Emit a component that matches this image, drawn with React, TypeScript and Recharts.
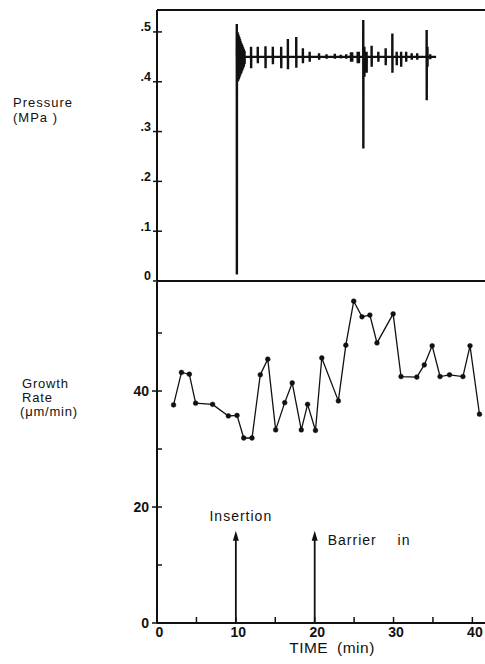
import { LineChart, Line, XAxis, YAxis, ReferenceLine } from "recharts";

// time axis
const timeTicks = [0, 5, 10, 15, 20, 25, 30, 35, 40];
const pressureTicks = [0, 0.1, 0.2, 0.3, 0.4, 0.5];
const rateTicks = [0, 10, 20, 30, 40, 50];

// pressure trace: steady level with spikes (time in min, MPa)
const baseline = 0.45;
const traceStart = 10.1;
const traceEnd = 35.4;
const spikeTime = [
  10.12, 10.2, 10.28, 10.36, 10.44, 10.52, 10.6, 10.7, 10.8, 10.9, 11.0, 11.1,
  11.93, 12.78, 13.76, 14.69, 15.75, 16.6, 17.66, 18.5, 19.36, 20.55, 21.5, 22.55,
  23.3, 24.0, 24.6, 24.75, 25.45, 25.6, 26.16, 26.3, 26.58, 27.22, 28.07, 29.0,
  29.85, 30.4, 30.96, 31.6, 32.3, 33.0, 34.2, 34.3, 34.65,
];
const spikeHigh = [
  0.516, 0.5, 0.497, 0.493, 0.49, 0.486, 0.482, 0.478, 0.474, 0.47, 0.466, 0.462,
  0.47, 0.47, 0.471, 0.47, 0.47, 0.486, 0.49, 0.467, 0.46, 0.457, 0.455, 0.456,
  0.454, 0.455, 0.459, 0.459, 0.46, 0.46, 0.524, 0.47, 0.46, 0.472, 0.46, 0.467,
  0.497, 0.46, 0.46, 0.46, 0.457, 0.457, 0.504, 0.47, 0.455,
];
const spikeLow = [
  0.013, 0.4, 0.402, 0.405, 0.408, 0.412, 0.415, 0.418, 0.422, 0.426, 0.43, 0.435,
  0.427, 0.437, 0.427, 0.435, 0.427, 0.425, 0.428, 0.437, 0.44, 0.444, 0.446, 0.446,
  0.447, 0.446, 0.44, 0.44, 0.437, 0.437, 0.266, 0.41, 0.418, 0.43, 0.44, 0.433,
  0.418, 0.433, 0.43, 0.44, 0.444, 0.444, 0.363, 0.43, 0.445,
];

// growth rate (um/min)
const growthTime = [
  2.1, 3.1, 4.1, 4.9, 7.05, 9.05, 10.15, 11.0, 12.05, 13.1, 14.05, 15.05, 16.2, 17.15,
  18.3, 19.1, 20.1, 20.9, 23.0, 23.95, 24.95, 26.0, 27.0, 27.9, 29.95, 30.95, 32.95,
  33.9, 34.9, 35.9, 37.1, 38.8, 39.7, 40.9,
];
const growthRate = [
  37.6, 43.2, 42.9, 37.9, 37.7, 35.7, 35.8, 31.9, 31.9, 42.8, 45.5, 33.3, 38.0, 41.4,
  33.3, 37.7, 33.2, 45.7, 38.3, 47.9, 55.5, 52.8, 53.1, 48.3, 53.3, 42.5, 42.4, 44.5,
  47.8, 42.5, 42.8, 42.5, 47.8, 36.0,
];

// events marked with arrows
const eventTime = [10, 20];
const eventLabel = ["Insertion", "Barrier in"];
const eventReach = 15.9;

const pressureData: { t: number; p: number }[] = [{ t: traceStart, p: baseline }];
spikeTime.forEach((t, i) => {
  pressureData.push(
    { t: t - 0.01, p: baseline },
    { t, p: spikeHigh[i] },
    { t: t + 0.01, p: spikeLow[i] },
    { t: t + 0.02, p: baseline }
  );
});
pressureData.push({ t: traceEnd, p: baseline });

const growthData = growthTime.map((t, i) => ({ t, r: growthRate[i] }));

const FONT = "'Liberation Sans', Arial, Helvetica, sans-serif";
const INK = "#111";
const X_DOMAIN: [number, number] = [0, 41.6];

const PressureTick = (props: any) => {
  const { x, y, payload } = props;
  const ax = x + 5;
  const v = payload.value;
  const label = v === 0 ? "0" : v.toFixed(1).replace(/^0/, "");
  return (
    <g>
      <line x1={ax - 4} x2={ax + 5} y1={y} y2={y} stroke={INK} strokeWidth={1.5} />
      <text x={x - 1} y={y - 5} dy="0.35em" textAnchor="end" fontSize={12.5} fontWeight="bold" fill={INK} fontFamily={FONT}>
        {label}
      </text>
    </g>
  );
};

const RateTick = (props: any) => {
  const { x, y, payload } = props;
  const ax = x + 8;
  const labelled = payload.value % 20 === 0;
  return (
    <g>
      <line x1={labelled ? ax - 5 : ax} x2={ax + 5} y1={y} y2={y} stroke={INK} strokeWidth={1.5} />
      {labelled && (
        <text x={x} y={y} dy="0.35em" textAnchor="end" fontSize={14} fontWeight="bold" fill={INK} fontFamily={FONT}>
          {payload.value}
        </text>
      )}
    </g>
  );
};

const TimeTick = (props: any) => {
  const { x, y, payload } = props;
  const ay = y - 4;
  const labelled = payload.value % 10 === 0;
  return (
    <g>
      <line x1={x} x2={x} y1={ay} y2={ay - 6} stroke={INK} strokeWidth={1.5} />
      {labelled && (
        <text x={x + 2.5} y={ay + 14} textAnchor="middle" fontSize={14} fontWeight="bold" fill={INK} fontFamily={FONT}>
          {payload.value}
        </text>
      )}
    </g>
  );
};

const Arrow = (props: any) => {
  const { x1, y1, x2, y2 } = props;
  const tip = Math.min(y1, y2);
  const foot = Math.max(y1, y2);
  return (
    <g>
      <line x1={x1} x2={x2} y1={foot} y2={tip + 8} stroke={INK} strokeWidth={1.8} />
      <path d={`M${x1},${tip} L${x1 - 3},${tip + 10} L${x1 + 3},${tip + 10} Z`} fill={INK} />
    </g>
  );
};

const labelPlacement = [
  { anchor: "middle", dx: 5, dy: -10, spacing: 0 },
  { anchor: "start", dx: 13, dy: 14, spacing: 16 },
];

export default function App() {
  return (
    <div style={{ position: "absolute", left: 0, top: 0, width: 485, height: 664, background: "#fff", fontFamily: FONT }}>
      <LineChart width={485} height={300} data={pressureData} margin={{ top: 10, right: 0, bottom: 18, left: 0 }}>
        <XAxis
          dataKey="t"
          type="number"
          domain={X_DOMAIN}
          allowDataOverflow
          height={1}
          tick={false}
          tickLine={false}
          axisLine={{ stroke: INK, strokeWidth: 2 }}
        />
        <YAxis
          type="number"
          domain={[0, 0.544]}
          allowDataOverflow
          ticks={pressureTicks}
          interval={0}
          width={157}
          tickSize={0}
          tickMargin={5}
          tick={<PressureTick />}
          axisLine={{ stroke: INK, strokeWidth: 2 }}
          label={(p: any) => {
            const vb = p.viewBox;
            return (
              <text fontFamily={FONT} fontSize={13} letterSpacing={1} fill={INK}>
                <tspan x={vb.x + 13} y={vb.y + 97}>Pressure</tspan>
                <tspan x={vb.x + 13} y={vb.y + 112}>(MPa )</tspan>
              </text>
            );
          }}
        />
        <ReferenceLine y={0.544} stroke={INK} strokeWidth={2} ifOverflow="extendDomain" />
        <Line
          dataKey="p"
          type="linear"
          stroke={INK}
          strokeWidth={2.4}
          dot={false}
          activeDot={false}
          isAnimationActive={false}
        />
      </LineChart>
      <div style={{ marginTop: -18 }}>
        <LineChart width={485} height={382} data={growthData} margin={{ top: 0, right: 0, bottom: 0, left: 0 }}>
          <XAxis
            dataKey="t"
            type="number"
            domain={X_DOMAIN}
            allowDataOverflow
            ticks={timeTicks}
            interval={0}
            height={41}
            tickSize={0}
            tickMargin={4}
            tick={<TimeTick />}
            axisLine={{ stroke: INK, strokeWidth: 2 }}
            label={(p: any) => {
              const vb = p.viewBox;
              return (
                <text
                  x={vb.x + vb.width / 2 + 11}
                  y={vb.y + 30}
                  textAnchor="middle"
                  fontFamily={FONT}
                  fontSize={15.5}
                  letterSpacing={0.5}
                  wordSpacing={4}
                  fill={INK}
                >
                  TIME (min)
                </text>
              );
            }}
          />
          <YAxis
            type="number"
            domain={[0, 58.8]}
            allowDataOverflow
            ticks={rateTicks}
            interval={0}
            width={157}
            tickSize={0}
            tickMargin={8}
            tick={<RateTick />}
            axisLine={{ stroke: INK, strokeWidth: 2 }}
            label={(p: any) => {
              const vb = p.viewBox;
              return (
                <text fontFamily={FONT} fontSize={13} letterSpacing={0.8} fill={INK}>
                  <tspan x={vb.x + 22} y={vb.y + 106}>Growth</tspan>
                  <tspan x={vb.x + 22} y={vb.y + 120}>Rate</tspan>
                  <tspan x={vb.x + 20} y={vb.y + 134}>(μm/min)</tspan>
                </text>
              );
            }}
          />
          {eventTime.map((t, i) => (
            <ReferenceLine
              key={t}
              segment={[
                { x: t, y: 0 },
                { x: t, y: eventReach },
              ]}
              shape={Arrow}
              label={(p: any) => {
                const vb = p.viewBox;
                const pl = labelPlacement[i];
                return (
                  <text
                    x={vb.x + pl.dx}
                    y={vb.y + pl.dy}
                    textAnchor={pl.anchor as any}
                    fontFamily={FONT}
                    fontSize={14}
                    letterSpacing={1}
                    wordSpacing={pl.spacing}
                    fill={INK}
                  >
                    {eventLabel[i]}
                  </text>
                );
              }}
            />
          ))}
          <Line
            dataKey="r"
            type="linear"
            stroke={INK}
            strokeWidth={1.3}
            dot={{ r: 2.4, fill: INK, stroke: INK, strokeWidth: 0.5 }}
            activeDot={false}
            isAnimationActive={false}
          />
        </LineChart>
      </div>
    </div>
  );
}
